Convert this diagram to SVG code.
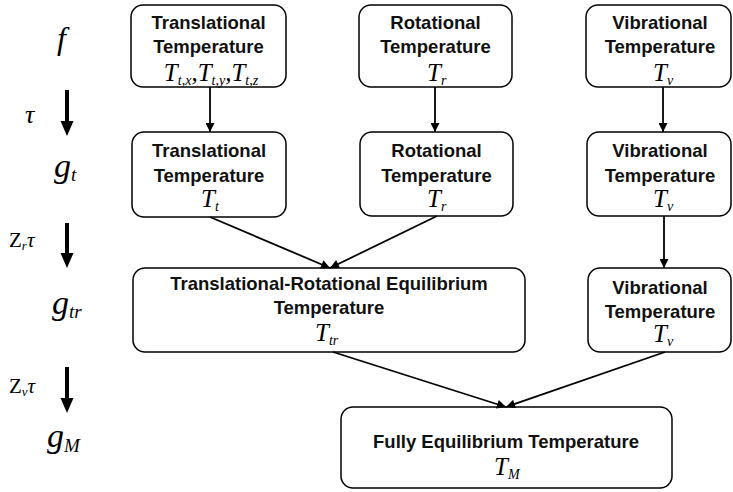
<svg xmlns="http://www.w3.org/2000/svg" width="733" height="492" viewBox="0 0 733 492">
<style>
.box{fill:#fff;stroke:#000;stroke-width:1.5}
.t{font-family:"Liberation Sans",Arial,sans-serif;font-weight:bold;font-size:18.5px;text-anchor:middle;fill:#111}
.m{font-family:"Liberation Serif","Times New Roman",serif;font-style:italic;font-size:25px;fill:#000}
.s{font-size:14px}
.lbl{font-family:"Liberation Serif","Times New Roman",serif;font-style:italic;fill:#000}
.c{stroke:#000;stroke-width:1.8;fill:none}
.big{stroke:#000;stroke-width:4;fill:none}
</style>
<defs>
<marker id="ah" viewBox="0 0 10 10" refX="10" refY="5" markerWidth="5.5" markerHeight="5" markerUnits="strokeWidth" orient="auto">
<path d="M0,0 L10,5 L0,10 z" fill="#000"/>
</marker>
</defs>

<g id="left-labels">
<text class="lbl" x="57" y="49" font-size="32">f</text>
<text class="lbl" x="25" y="123" font-size="26">τ</text>
<text class="lbl" x="54" y="177" font-size="34">g<tspan font-size="19" dy="4">t</tspan></text>
<text class="lbl" x="9" y="247" font-size="21"><tspan font-style="normal">Z</tspan><tspan font-size="13" dy="3">r</tspan><tspan dy="-3">τ</tspan></text>
<text class="lbl" x="52" y="314" font-size="34">g<tspan font-size="19" dy="4">tr</tspan></text>
<text class="lbl" x="9" y="393" font-size="21"><tspan font-style="normal">Z</tspan><tspan font-size="13" dy="3">v</tspan><tspan dy="-3">τ</tspan></text>
<text class="lbl" x="47" y="447" font-size="34">g<tspan font-size="19" dy="5">M</tspan></text>
</g>

<g id="left-arrows">
<line class="big" x1="67" y1="90" x2="67" y2="122"/>
<polygon points="60.5,121 73.5,121 67,136" fill="#000"/>
<line class="big" x1="67" y1="223" x2="67" y2="254"/>
<polygon points="60.5,253 73.5,253 67,268" fill="#000"/>
<line class="big" x1="67" y1="367" x2="67" y2="399"/>
<polygon points="60.5,398 73.5,398 67,413" fill="#000"/>
</g>

<g id="n1">
<rect class="box" x="131" y="5" width="155" height="82" rx="12"/>
<text class="t" x="208.5" y="29">Translational</text>
<text class="t" x="208.5" y="53">Temperature</text>
<text class="m" x="211" y="81" text-anchor="middle">T<tspan class="s" dy="4">t,x</tspan><tspan dy="-4">,</tspan>T<tspan class="s" dy="4">t,y</tspan><tspan dy="-4">,</tspan>T<tspan class="s" dy="4">t,z</tspan></text>
</g>
<g id="n2">
<rect class="box" x="359" y="5" width="153" height="82" rx="12"/>
<text class="t" x="435.5" y="29">Rotational</text>
<text class="t" x="435.5" y="53">Temperature</text>
<text class="m" x="427" y="81">T<tspan class="s" dy="4">r</tspan></text>
</g>
<g id="n3">
<rect class="box" x="586" y="5" width="145" height="82" rx="12"/>
<text class="t" x="660" y="29">Vibrational</text>
<text class="t" x="660" y="53">Temperature</text>
<text class="m" x="653" y="81">T<tspan class="s" dy="4">v</tspan></text>
</g>

<g id="n4">
<rect class="box" x="132" y="132" width="154" height="85" rx="12"/>
<text class="t" x="209" y="157">Translational</text>
<text class="t" x="209" y="182">Temperature</text>
<text class="m" x="201" y="207">T<tspan class="s" dy="4">t</tspan></text>
</g>
<g id="n5">
<rect class="box" x="360" y="132" width="153" height="84" rx="12"/>
<text class="t" x="436.5" y="157">Rotational</text>
<text class="t" x="436.5" y="182">Temperature</text>
<text class="m" x="427" y="207">T<tspan class="s" dy="4">r</tspan></text>
</g>
<g id="n6">
<rect class="box" x="587" y="132" width="144" height="84" rx="12"/>
<text class="t" x="660" y="157">Vibrational</text>
<text class="t" x="660" y="182">Temperature</text>
<text class="m" x="653" y="207">T<tspan class="s" dy="4">v</tspan></text>
</g>

<g id="n7">
<rect class="box" x="133" y="268" width="392" height="84" rx="12"/>
<text class="t" x="329" y="290">Translational-Rotational Equilibrium</text>
<text class="t" x="329" y="314">Temperature</text>
<text class="m" x="315" y="341">T<tspan class="s" dy="4">tr</tspan></text>
</g>
<g id="n8">
<rect class="box" x="588" y="268" width="143" height="84" rx="12"/>
<text class="t" x="660" y="294">Vibrational</text>
<text class="t" x="660" y="318">Temperature</text>
<text class="m" x="653" y="342">T<tspan class="s" dy="4">v</tspan></text>
</g>

<g id="n9">
<rect class="box" x="341" y="407" width="331" height="81" rx="12"/>
<text class="t" x="506" y="448" font-size="19.5">Fully Equilibrium Temperature</text>
<text class="m" x="494" y="475">T<tspan class="s" dy="4">M</tspan></text>
</g>

<g id="connectors">
<line class="c" x1="210" y1="87" x2="210" y2="132" marker-end="url(#ah)"/>
<line class="c" x1="435" y1="87" x2="435" y2="132" marker-end="url(#ah)"/>
<line class="c" x1="663" y1="87" x2="663" y2="132" marker-end="url(#ah)"/>
<line class="c" x1="210" y1="217" x2="330" y2="268" marker-end="url(#ah)"/>
<line class="c" x1="437" y1="216" x2="330" y2="268" marker-end="url(#ah)"/>
<line class="c" x1="664" y1="216" x2="664" y2="268" marker-end="url(#ah)"/>
<line class="c" x1="333" y1="352" x2="506" y2="407" marker-end="url(#ah)"/>
<line class="c" x1="665" y1="352" x2="506" y2="407" marker-end="url(#ah)"/>
</g>
</svg>
